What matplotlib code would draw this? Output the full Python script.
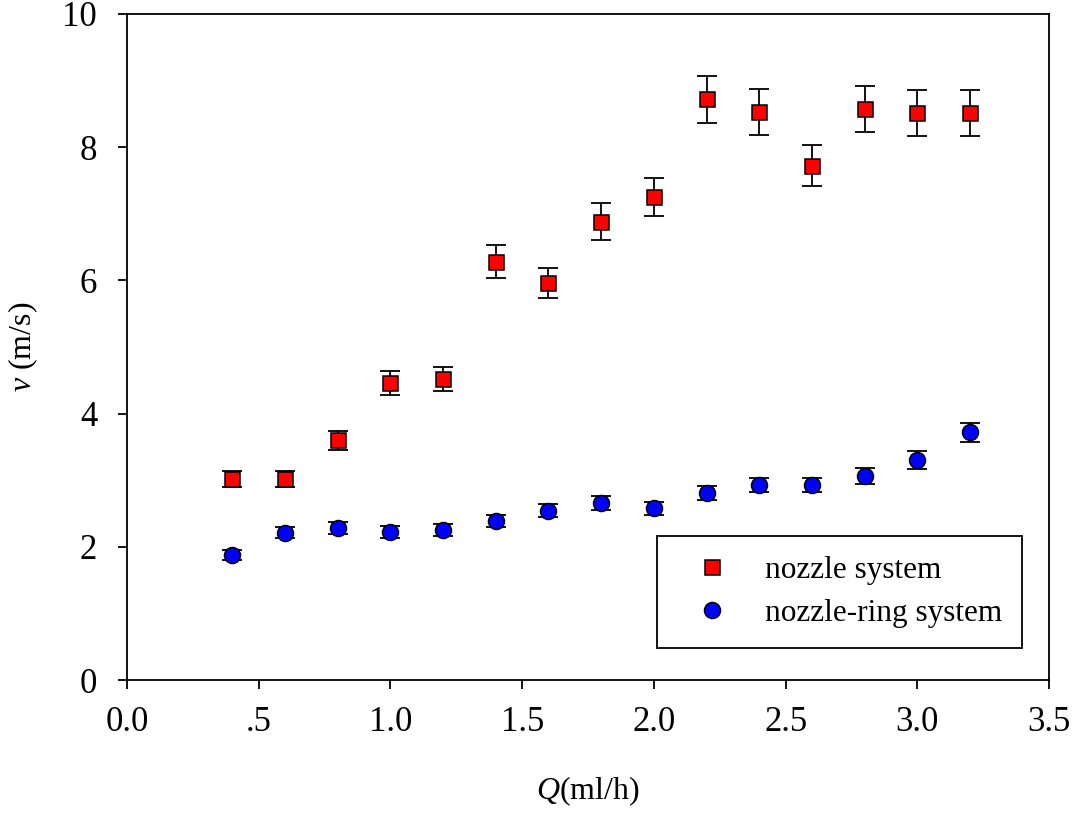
import matplotlib
matplotlib.use("Agg")
import matplotlib.pyplot as plt

plt.rcParams['font.family'] = ['Liberation Serif', 'DejaVu Serif']
plt.rcParams['mathtext.fontset'] = 'custom'
plt.rcParams['mathtext.it'] = 'Liberation Serif:italic'
plt.rcParams['mathtext.rm'] = 'Liberation Serif'

# Data
Q = [0.4, 0.6, 0.8, 1.0, 1.2, 1.4, 1.6, 1.8, 2.0, 2.2, 2.4, 2.6, 2.8, 3.0, 3.2]
v_nozzle = [3.02, 3.02, 3.60, 4.46, 4.52, 6.28, 5.96, 6.88, 7.25, 8.72, 8.53, 7.72, 8.57, 8.52, 8.51]
err_nozzle = [0.12, 0.12, 0.14, 0.18, 0.18, 0.25, 0.23, 0.28, 0.29, 0.35, 0.345, 0.31, 0.345, 0.345, 0.345]
v_ring = [1.88, 2.21, 2.28, 2.22, 2.25, 2.39, 2.54, 2.66, 2.58, 2.81, 2.93, 2.93, 3.06, 3.30, 3.72]
err_ring = [0.075, 0.08, 0.09, 0.085, 0.085, 0.09, 0.10, 0.11, 0.10, 0.11, 0.11, 0.11, 0.12, 0.135, 0.145]

xticks = [0.0, 0.5, 1.0, 1.5, 2.0, 2.5, 3.0, 3.5]
xticklabels = ["0.0", ".5", "1.0", "1.5", "2.0", "2.5", "3.0", "3.5"]
yticks = [0, 2, 4, 6, 8, 10]
labels = ["nozzle system", "nozzle-ring system"]

fig = plt.figure(figsize=(10.8, 8.13), dpi=100)
ax = fig.add_axes([127/1080, 1 - 680/813, (1049-127)/1080, (680-14)/813])

ekw = dict(fmt='none', ecolor='black', elinewidth=1.3, capsize=7.2, capthick=1.3, zorder=2)
ax.errorbar(Q, v_nozzle, yerr=err_nozzle, **ekw)
ax.errorbar(Q, v_ring, yerr=err_ring, **ekw)
ax.plot(Q, v_nozzle, 's', color='red', markersize=10.8, markeredgecolor='black',
        markeredgewidth=1.1, linestyle='none', label=labels[0], zorder=3)
ax.plot(Q, v_ring, 'o', color='blue', markersize=11.5, markeredgecolor='black',
        markeredgewidth=1.1, linestyle='none', label=labels[1], zorder=3)

ax.set_xlim(0, 3.5)
ax.set_ylim(0, 10)
ax.set_xticks(xticks)
ax.set_xticklabels(xticklabels)
ax.set_yticks(yticks)
ax.tick_params(axis='both', direction='out', length=6.5, width=1.3, labelsize=25,
               top=False, right=False)
ax.tick_params(axis='x', pad=12)
ax.tick_params(axis='y', pad=15)
for s in ax.spines.values():
    s.set_linewidth(1.3)

ax.set_xlabel(r'$Q$(ml/h)', fontsize=23, labelpad=26)
ax.set_ylabel(r'$v$ (m/s)', fontsize=23, labelpad=16)

leg = ax.legend(loc='lower right', bbox_to_anchor=(0.971, 0.048), fontsize=22.5,
                frameon=True, fancybox=False, framealpha=1, edgecolor='black',
                borderpad=0.65, handlelength=2.2, handletextpad=0.6,
                labelspacing=0.43, borderaxespad=0)
leg.get_frame().set_linewidth(1.3)

fig.savefig('out.png', dpi=100)
